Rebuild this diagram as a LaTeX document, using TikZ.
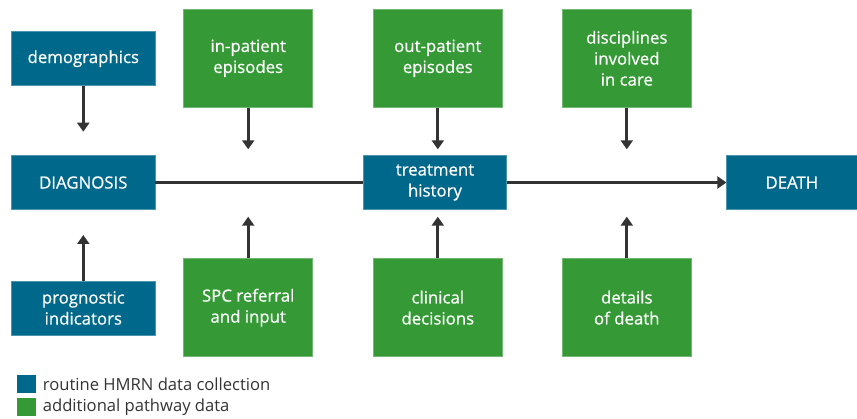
\documentclass[tikz,border=0pt]{standalone}
\usepackage{fontspec}
\setmainfont{Open Sans}
\newfontfamily\boxfont{Open Sans}[FakeBold=0.6]
\usetikzlibrary{arrows.meta}
\definecolor{hblue}{RGB}{0,104,139}
\definecolor{hgreen}{RGB}{53,154,54}
\definecolor{arrowgray}{RGB}{51,51,51}
\tikzset{
  bluebox/.style={rectangle, fill=hblue, draw=hblue!70!white, line width=0.6pt, text=white, align=center, font=\boxfont\fontsize{16.8}{21}\selectfont, inner sep=0pt, minimum width=143.3pt, minimum height=54pt},
  greenbox/.style={rectangle, fill=hgreen, draw=hgreen!70!white, line width=0.6pt, text=white, align=center, font=\boxfont\fontsize{16.8}{21}\selectfont, inner sep=0pt, minimum width=129pt, minimum height=98pt},
  arr/.style={draw=arrowgray, line width=3pt, -{Triangle[length=9pt,width=12pt]}},
  plainline/.style={draw=arrowgray, line width=3pt},
  legsq/.style={rectangle, inner sep=0pt, minimum width=18.7pt, minimum height=18pt},
  legtext/.style={anchor=west, inner sep=0pt, text=black!80, font=\fontsize{16.6}{18}\selectfont}
}
\begin{document}
\begin{tikzpicture}[x=1pt,y=-1pt]
\useasboundingbox (0,0) rectangle (857,419);
% blue nodes
\node[bluebox] (demo) at (83.3,58.7) {demographics};
\node[bluebox] (diag) at (83.3,182.5) {DIAGNOSIS};
\node[bluebox] (prog) at (83.3,308) {prognostic\\indicators};
\node[bluebox] (treat) at (435,182.5) {treatment\\history};
\node[bluebox, minimum width=130.3pt] (death) at (791.85,182.5) {DEATH};
% green nodes
\node[greenbox] (inpat) at (248.2,58.3) {in-patient\\episodes};
\node[greenbox] (outpat) at (437.8,58.3) {out-patient\\episodes};
\node[greenbox] (disc) at (626.8,58.3) {disciplines\\involved\\in care};
\node[greenbox] (spc) at (248.2,307.7) {SPC referral\\and input};
\node[greenbox] (clin) at (437.8,307.7) {clinical\\decisions};
\node[greenbox] (details) at (626.8,307.7) {details\\of death};
% arrow end points
\coordinate (tdemo) at (83.3,131.7);
\coordinate (tprog) at (83.3,235);
\coordinate (tinpat) at (248.2,149.3);
\coordinate (toutpat) at (437.8,149.3);
\coordinate (tdisc) at (626.8,149.3);
\coordinate (tspc) at (248.2,216.7);
\coordinate (tclin) at (437.8,216.7);
\coordinate (tdetails) at (626.8,216.7);
% connectors
\draw[plainline] (diag.east) -- (treat.west);
\draw[arr] (treat.east) -- (death.west);
\draw[arr] (demo.south) -- (tdemo);
\draw[arr] (prog.north) -- (tprog);
\draw[arr] (inpat.south) -- (tinpat);
\draw[arr] (outpat.south) -- (toutpat);
\draw[arr] (disc.south) -- (tdisc);
\draw[arr] (spc.north) -- (tspc);
\draw[arr] (clin.north) -- (tclin);
\draw[arr] (details.north) -- (tdetails);
% legend
\node[legsq, fill=hblue] (lblue) at (26.65,384.15) {};
\node[legsq, fill=hgreen] (lgreen) at (26.65,407.5) {};
\node[legtext] (tblue) at (42.7,384.15) {routine HMRN data collection};
\node[legtext] (tgreen) at (42.7,407.5) {additional pathway data};
\end{tikzpicture}
\end{document}
